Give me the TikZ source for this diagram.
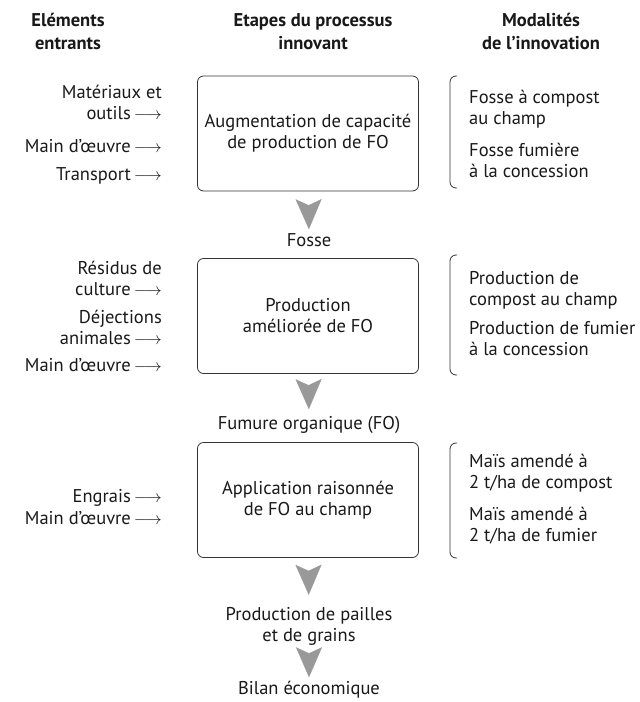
\documentclass[tikz,border=0pt]{standalone}
\usepackage{fontspec}
\setmainfont{PT Sans}
\usetikzlibrary{arrows.meta, positioning}
\definecolor{boxline}{gray}{0.2}
\definecolor{flowgray}{gray}{0.6}
\newcommand\inarrow{\,$\longrightarrow$}

\begin{document}
\begin{tikzpicture}[x=1pt, y=-1pt, font=\fontsize{18.5}{21}\selectfont, text=black!90,
	every node/.style={inner sep=0pt},
	titre/.style={font=\fontsize{18.5}{23}\selectfont\bfseries, align=center},
	etape/.style={draw=boxline, line width=0.8pt, rounded corners=6pt, minimum width=221pt, minimum height=115pt, align=center},
	entrant/.style={anchor=east, align=right},
	modalite/.style={anchor=west, align=left},
	crochet/.style={draw=boxline, line width=0.8pt, rounded corners=6pt},
	flow/.style={flowgray, line width=0.2pt, -{Stealth[length=30pt, width=26pt, inset=6pt]}}]
		\useasboundingbox (0,0) rectangle (640,702);
		% en-tetes
		\node[titre]	(h1)	at (68,31.5)	{Eléments\\entrants};
		\node[titre]	(h2)	at (313,31.5)	{Etapes du processus\\innovant};
		\node[titre]	(h3)	at (541,31.5)	{Modalités\\de l’innovation};
		% etapes
		\node[etape]	(box1)	at (308,133.5)	{Augmentation de capacité\\de production de FO};
		\node		(fosse)	at (309,240)	{Fosse};
		\node[etape]	(box2)	at (308,316)	{Production\\améliorée de FO};
		\node		(fumure) at (309,425)	{Fumure organique (FO)};
		\node[etape]	(box3)	at (308,500)	{Application raisonnée\\de FO au champ};
		\node[align=center] (paille) at (309,626) {Production de pailles\\et de grains};
		\node		(bilan)	at (309,690)	{Bilan économique};
		% elements entrants
		\node[entrant]	(e11)	at (162,102.5)	{Matériaux et\\outils\inarrow};
		\node[entrant]	(e12)	at (162,146)	{Main d’œuvre\inarrow};
		\node[entrant]	(e13)	at (162,176)	{Transport\inarrow};
		\node[entrant]	(e21)	at (162,278)	{Résidus de\\culture\inarrow};
		\node[entrant]	(e22)	at (162,327.5)	{Déjections\\animales\inarrow};
		\node[entrant]	(e23)	at (162,365)	{Main d’œuvre\inarrow};
		\node[entrant]	(e31)	at (162,498)	{Engrais\inarrow};
		\node[entrant]	(e32)	at (162,518)	{Main d’œuvre\inarrow};
		% modalites
		\node[modalite]	(m11)	at (469,109.5)	{Fosse à compost\\au champ};
		\node[modalite]	(m12)	at (469,160.5)	{Fosse fumière\\à la concession};
		\node[modalite]	(m21)	at (469,290)	{Production de\\compost au champ};
		\node[modalite]	(m22)	at (469,339)	{Production de fumier\\à la concession};
		\node[modalite]	(m31)	at (469,473.5)	{Maïs amendé à\\2 t/ha de compost};
		\node[modalite]	(m32)	at (469,525.5)	{Maïs amendé à\\2 t/ha de fumier};
		\foreach \t/\b in {76/188, 255/375, 443/558}
			\draw[crochet] (457,\t) -- (450,\t) -- (450,\b) -- (457,\b);
		% fleches
		\path[flow]
		(box1)		edge[shorten <=19pt, shorten >=4pt]	(fosse)
		(box2)		edge[shorten <=18pt, shorten >=7pt]	(fumure)
		(box3)		edge[shorten <=19pt, shorten >=12pt]	(paille)
		(paille)	edge[shorten <=12pt, shorten >=4pt]	(bilan);
\end{tikzpicture}
\end{document}
